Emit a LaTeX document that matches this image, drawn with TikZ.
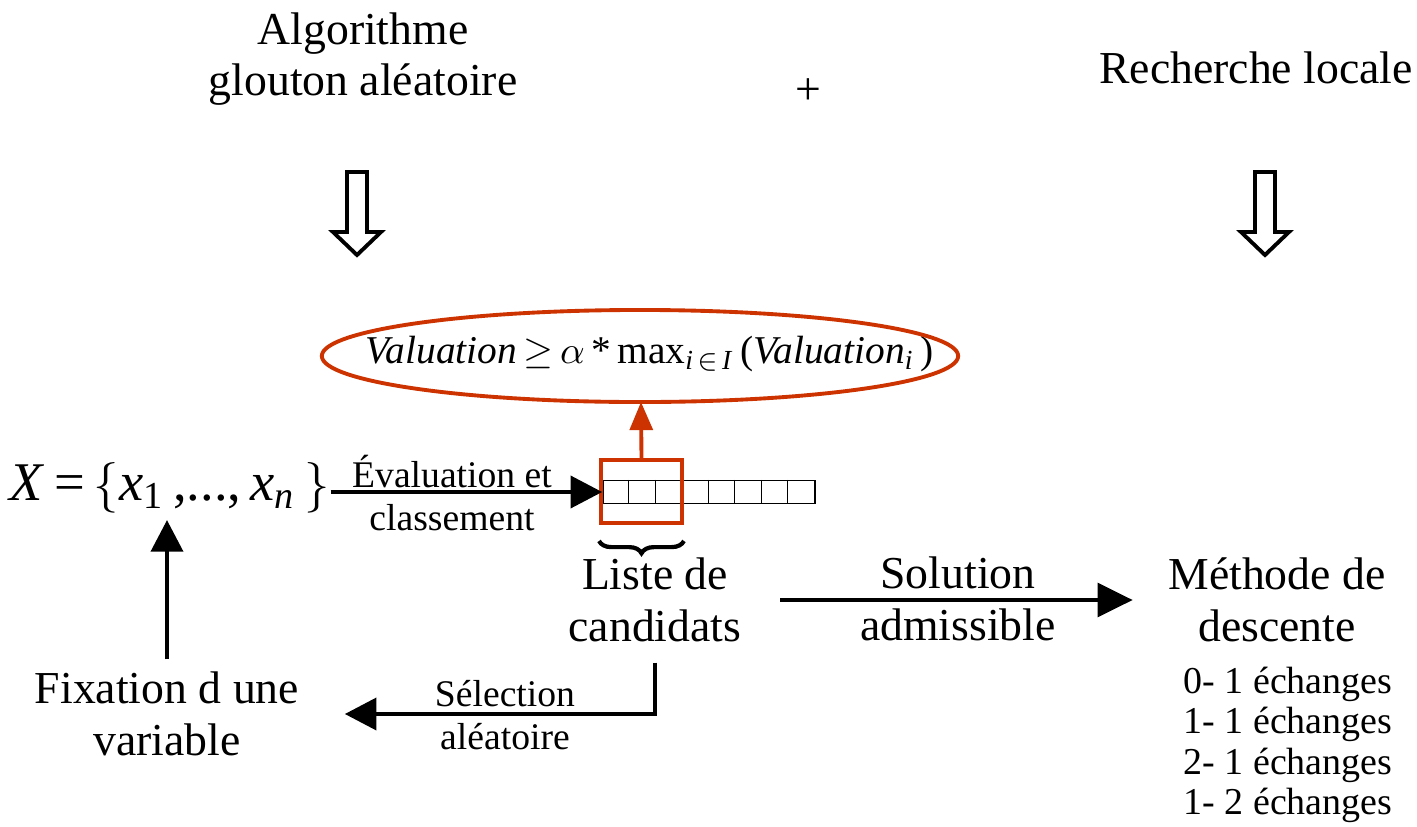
\documentclass[tikz,border=0pt]{standalone}
\usepackage{fontspec}
\setmainfont{LiberationSerif}[Extension=.ttf, UprightFont=*-Regular, ItalicFont=*-Italic, BoldFont=*-Bold]
\usetikzlibrary{arrows.meta,decorations.pathreplacing,shapes.geometric}
\definecolor{redo}{RGB}{204,51,0}
\begin{document}
\begin{tikzpicture}[x=0.01cm,y=-0.01cm,
 big/.style={font=\fontsize{13}{14.7}\selectfont, align=center, inner sep=0pt},
 small/.style={font=\fontsize{10.7}{12.2}\selectfont, align=center, inner sep=0pt},
 blk/.style={line width=1.4pt, -{Triangle[length=9pt,width=9pt]}},
 redarr/.style={draw=redo, line width=1.1pt, -{Triangle[length=8pt,width=6.5pt]}, redo},
 hollow/.style={line width=1.1pt, line join=miter},
]
\useasboundingbox (0,0) rectangle (1417,827);

% top labels
\node[big] (algo) at (363,59) {Algorithme\\glouton aléatoire};
\node[big] (plus) at (808,92) {+};
\node[big] (rech) at (1256,68) {Recherche locale};

% hollow arrows
\draw[hollow] (347,172) -- (367,172) -- (367,232) -- (381,232) -- (357,255) -- (333,232) -- (347,232) -- cycle;
\draw[hollow] (1255,172) -- (1275,172) -- (1275,232) -- (1289,232) -- (1265,255) -- (1241,232) -- (1255,232) -- cycle;

% ellipse criterion
\node[inner sep=0pt, font=\fontsize{11.2}{14}\selectfont] (crit) at (650,354)
  {\textit{Valuation}\,$\geq$\,$\alpha$\,*\,max\textsubscript{\textit{i}\,$\in$\,\textit{I}}\,(\textit{Valuation}\textsubscript{\textit{i}}\,)};
\draw[redo, line width=1.1pt] (640,356) ellipse [x radius=3.18cm, y radius=0.46cm];
\coordinate (critbot) at (641,402);

% set X
\node[inner sep=0pt, font=\fontsize{15.5}{20}\selectfont] (set) at (170,488)
  {\textit{X}\,=\,$\bigl\{$\textit{x}\textsubscript{1}\,,...,\,\textit{x}\textsubscript{\textit{n}}\,$\bigr\}$};

% cells
\node[draw, line width=0.4pt, minimum width=2.12cm, minimum height=0.23cm, inner sep=0pt] (cells) at (709,492) {};
\foreach \i in {1,...,7} \draw[line width=0.4pt] (cells.north west) ++(\i*26.5,0) -- ++(0,23);
\node[draw=redo, line width=1.1pt, minimum width=0.81cm, minimum height=0.63cm, inner sep=0pt] (rbox) at (641.5,491.5) {};

% brace
\draw[decorate, decoration={brace, mirror, amplitude=3.5pt}, line width=1.2pt]
  ([yshift=-0.16cm]rbox.south west) -- ([yshift=-0.16cm]rbox.south east);

% labels
\node[small] (evl) at (452,493) {Évaluation et\\classement};
\node[big] (liste) at (655,600) {Liste de\\candidats};
\node[big] (sol) at (958,599) {Solution\\admissible};
\node[big] (meth) at (1277,600) {Méthode de\\descente};
\node[small, font=\fontsize{10.8}{11.5}\selectfont] (ech) at (1288,745)
  {0- 1 échanges\\1- 1 échanges\\2- 1 échanges\\1- 2 échanges};
\node[big] (fix) at (167,714) {Fixation d une\\variable};
\node[small] (sel) at (505,715) {Sélection\\aléatoire};

% connectors
\draw[blk] (set.east |- cells.west) -- (cells.west);
\draw[redarr] (rbox.north) -- (critbot);
\draw[blk, -{Triangle[length=10pt,width=9.5pt]}] ([xshift=0.38cm]liste.east) -- ([xshift=-0.35cm]meth.west);
\draw[line width=1.4pt, -{Triangle[length=9pt,width=9pt]}] ([yshift=-0.2cm]liste.south) |- ([xshift=0.45cm]fix.east);
\draw[blk] ([yshift=0.12cm]fix.north) -- ([yshift=-0.06cm]fix.north |- set.south);
\end{tikzpicture}
\end{document}
